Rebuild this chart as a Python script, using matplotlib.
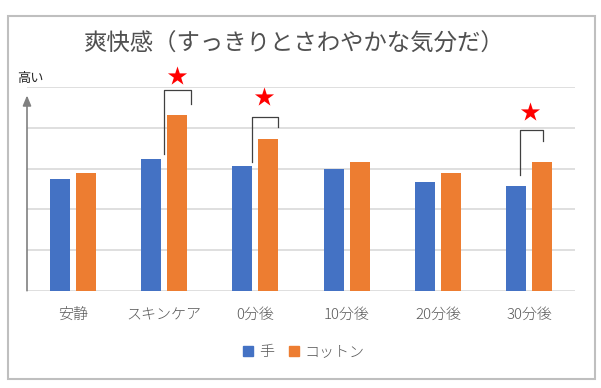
import matplotlib
matplotlib.use("Agg")
import matplotlib.pyplot as plt
import numpy as np
from matplotlib.patches import Patch, Rectangle

plt.rcParams['font.family'] = ['Noto Sans CJK JP', 'DejaVu Sans']

categories = ["安静", "スキンケア", "0分後", "10分後", "20分後", "30分後"]
hand = [2.74, 3.24, 3.07, 2.99, 2.66, 2.57]
cotton = [2.89, 4.32, 3.73, 3.16, 2.89, 3.16]
series_names = ["手", "コットン"]

# significance marks: category index, bracket left/right offset, top, left/right ends
sig_index = [1, 2, 5]
sig_left = [0.00, -0.04, -0.10]
sig_right = [0.30, 0.25, 0.15]
sig_top = [4.94, 4.27, 3.94]
sig_left_end = [3.35, 3.17, 2.84]
sig_right_end = [4.58, 4.02, 3.69]
star_dx = [0.14, 0.10, 0.01]
star_y = [5.29, 4.75, 4.39]

blue = "#4472C4"
orange = "#ED7D31"
text_grey = "#595959"
grid_grey = "#D9D9D9"

fig = plt.figure(figsize=(6.01, 3.88), dpi=100)
ax = fig.add_axes([27 / 601, 1 - 290.7 / 388, 548 / 601, 203.4 / 388])

x = np.arange(len(categories)) + 0.5
w = 0.22
ax.bar(x - 0.143, hand, w, color=blue, zorder=3)
ax.bar(x + 0.143, cotton, w, color=orange, zorder=3)

ax.set_xlim(0, len(categories))
ax.set_ylim(0, 5)
ax.set_yticks(np.arange(0, 6))
ax.yaxis.grid(True, color=grid_grey, lw=1.2, zorder=0)
ax.tick_params(axis='y', left=False, labelleft=False)
ax.tick_params(axis='x', bottom=False, labelsize=10.8, labelcolor=text_grey, pad=9)
ax.set_xticks(x)
ax.set_xticklabels(categories, fontweight='light')
for s in ax.spines.values():
    s.set_visible(False)

# brackets and stars
for i, l, r, t, le, re, sx, sy in zip(sig_index, sig_left, sig_right, sig_top,
                                      sig_left_end, sig_right_end, star_dx, star_y):
    cx = x[i]
    ax.plot([cx + l, cx + l, cx + r, cx + r], [le, t, t, re],
            color="#404040", lw=0.9, zorder=4, clip_on=False)
    ax.scatter([cx + sx], [sy], marker='*', s=210, color="red", zorder=5,
               clip_on=False, linewidths=0)

# y axis arrow
ax.annotate("", xy=(0.0, 4.8), xytext=(0.0, 0),
            arrowprops=dict(arrowstyle="-|>,head_width=0.25,head_length=0.6",
                            color="#808080", lw=1.2, shrinkA=0, shrinkB=0),
            annotation_clip=False, zorder=4)
fig.text(30 / 601, 1 - 78.5 / 388, "高い", fontsize=9.5, color="#262626",
         ha="center", va="center")

fig.text(293 / 601, 1 - 44 / 388, "爽快感（すっきりとさわやかな気分だ）",
         fontsize=16.8, color="#505050", ha="center", va="center")

handles = [Patch(color=blue), Patch(color=orange)]
fig.legend(handles, series_names, loc="center", bbox_to_anchor=(304 / 601, 1 - 352 / 388),
           ncol=2, frameon=False, labelcolor=text_grey,
           prop={'size': 10.8, 'weight': 'light'},
           handlelength=0.65, handleheight=0.65, handletextpad=0.4, columnspacing=1.0)

fig.patches.append(Rectangle((7.5 / 601, 1 - 378.5 / 388), 587 / 601, 362.5 / 388,
                             transform=fig.transFigure, fill=False,
                             edgecolor="#BFBFBF", lw=1.5))

fig.savefig("out.png", dpi=100)
